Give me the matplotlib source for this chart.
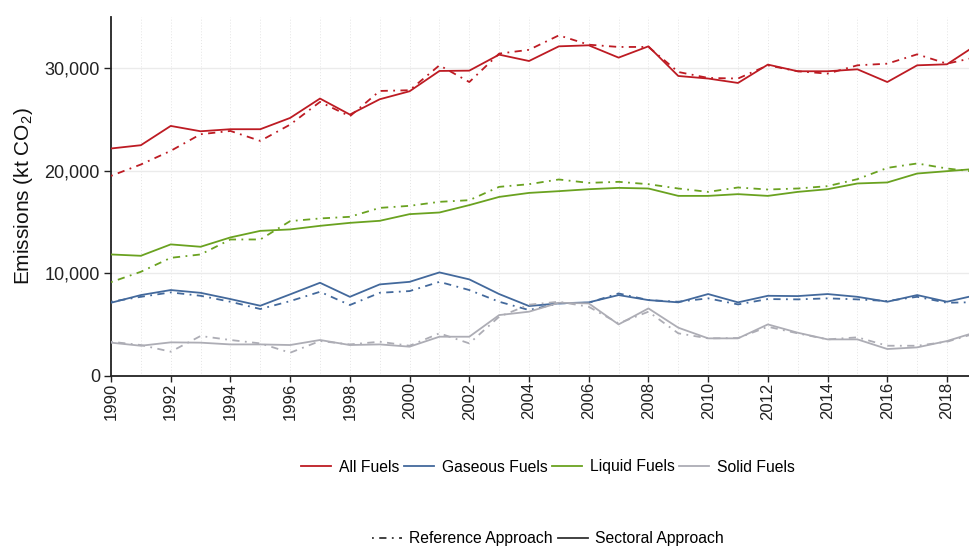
import matplotlib
matplotlib.use("Agg")
import matplotlib.pyplot as plt
from matplotlib.lines import Line2D
from matplotlib.ticker import FuncFormatter, MultipleLocator

plt.rcParams["font.family"] = ["Liberation Sans", "DejaVu Sans"]
plt.rcParams["mathtext.fontset"] = "custom"
plt.rcParams["mathtext.rm"] = "Liberation Sans"

years = list(range(1990, 2020))

# kt CO2
all_sectoral = [22180, 22500, 24380, 23860, 24060, 24060, 25160, 27050, 25490, 26980,
                27760, 29740, 29770, 31330, 30710, 32140, 32240, 31040, 32140, 29250,
                29000, 28570, 30360, 29710, 29710, 29900, 28660, 30290, 30390, 32300]
all_reference = [19510, 20620, 21950, 23570, 23890, 22920, 24510, 26720, 25320, 27790,
                 27860, 30290, 28660, 31430, 31800, 33210, 32300, 32080, 32080, 29640,
                 29060, 29000, 30290, 29710, 29480, 30290, 30450, 31360, 30450, 31100]
gas_sectoral = [7140, 7890, 8380, 8110, 7500, 6850, 7960, 9090, 7720, 8930,
                9180, 10100, 9420, 7990, 6820, 7080, 7180, 7890, 7400, 7180,
                7990, 7180, 7820, 7790, 7990, 7720, 7240, 7890, 7240, 7900]
gas_reference = [7240, 7720, 8150, 7820, 7240, 6530, 7300, 8210, 6920, 8110,
                 8280, 9180, 8380, 7240, 6430, 7080, 7140, 8050, 7400, 7240,
                 7570, 6980, 7500, 7470, 7570, 7470, 7310, 7720, 7140, 7200]
liquid_sectoral = [11850, 11720, 12830, 12600, 13510, 14150, 14290, 14640, 14930, 15130,
                   15780, 15940, 16660, 17460, 17850, 18020, 18210, 18340, 18280, 17560,
                   17560, 17730, 17560, 17950, 18210, 18770, 18870, 19740, 19970, 20200]
liquid_reference = [9150, 10160, 11520, 11850, 13310, 13310, 15100, 15360, 15520, 16390,
                    16590, 16980, 17140, 18440, 18700, 19160, 18830, 18930, 18700, 18280,
                    17950, 18380, 18180, 18280, 18510, 19190, 20290, 20720, 20230, 19900]
solid_sectoral = [3250, 2950, 3280, 3250, 3080, 3080, 3020, 3510, 3020, 3080,
                  2860, 3830, 3830, 5940, 6270, 7140, 7080, 5030, 6590, 4710,
                  3670, 3670, 5030, 4220, 3570, 3570, 2630, 2790, 3410, 4300]
solid_reference = [3340, 3020, 2370, 3900, 3510, 3180, 2270, 3410, 3080, 3340,
                   2950, 4160, 3180, 5780, 6950, 7240, 6750, 5130, 6270, 4160,
                   3670, 3700, 4800, 4160, 3570, 3770, 2950, 2950, 3340, 4200]

fuel_labels = ["All Fuels", "Gaseous Fuels", "Liquid Fuels", "Solid Fuels"]
fuel_colors = ["#BD1B23", "#43699C", "#6AA220", "#ADADB5"]
sectoral = [all_sectoral, gas_sectoral, liquid_sectoral, solid_sectoral]
reference = [all_reference, gas_reference, liquid_reference, solid_reference]

dotdash = (0, (1, 3, 4, 3))

fig = plt.figure(figsize=(9.7, 5.48), dpi=100)
ax = fig.add_axes([111 / 970, 172 / 548, 1 - 111 / 970, 359 / 548])

for sec, ref, col in zip(sectoral, reference, fuel_colors):
    ax.plot(years, ref, color=col, linewidth=1.3, linestyle=dotdash, zorder=3)
    ax.plot(years, sec, color=col, linewidth=1.3, linestyle="-", zorder=3)

ax.set_xlim(1990, 2018.77)
ax.set_ylim(0, 35000)
ax.xaxis.set_major_locator(MultipleLocator(2))
ax.xaxis.set_minor_locator(MultipleLocator(1))
ax.yaxis.set_major_locator(MultipleLocator(10000))
ax.yaxis.set_major_formatter(FuncFormatter(lambda v, _: f"{int(v):,}"))
ax.tick_params(axis="x", which="major", labelrotation=90, labelsize=12,
               length=4, width=1, colors="#222222", pad=0.5)
ax.tick_params(axis="x", which="minor", length=0)
ax.tick_params(axis="y", labelsize=13, length=5, width=1, colors="#222222", pad=3)

ax.grid(True, axis="y", which="major", color="#EBEBEB", linewidth=1)
ax.grid(True, axis="x", which="both", color="#E4E4E4", linewidth=0.7, linestyle=(0, (1, 2)))
ax.set_axisbelow(True)

for side in ["top", "right"]:
    ax.spines[side].set_visible(False)
for side in ["left", "bottom"]:
    ax.spines[side].set_color("#222222")
    ax.spines[side].set_linewidth(1.3)

ax.set_ylabel("Emissions (kt CO$_2$)", fontsize=15, color="#111111", labelpad=7)

fuel_handles = [Line2D([], [], color=c, linewidth=1.3) for c in fuel_colors]
fig.legend(fuel_handles, fuel_labels, loc="center", bbox_to_anchor=(548 / 970, 1 - 467 / 548),
           ncol=4, frameon=False, fontsize=11.3, handlelength=1.9, handletextpad=0.5,
           columnspacing=0.3)
approach_handles = [Line2D([], [], color="#333333", linewidth=1.3, linestyle=dotdash),
                    Line2D([], [], color="#333333", linewidth=1.3)]
fig.legend(approach_handles, ["Reference Approach", "Sectoral Approach"], loc="center",
           bbox_to_anchor=(548 / 970, 1 - 539 / 548), ncol=2, frameon=False, fontsize=11.3,
           handlelength=1.9, handletextpad=0.5, columnspacing=0.3)

fig.savefig("out.png", dpi=100)
